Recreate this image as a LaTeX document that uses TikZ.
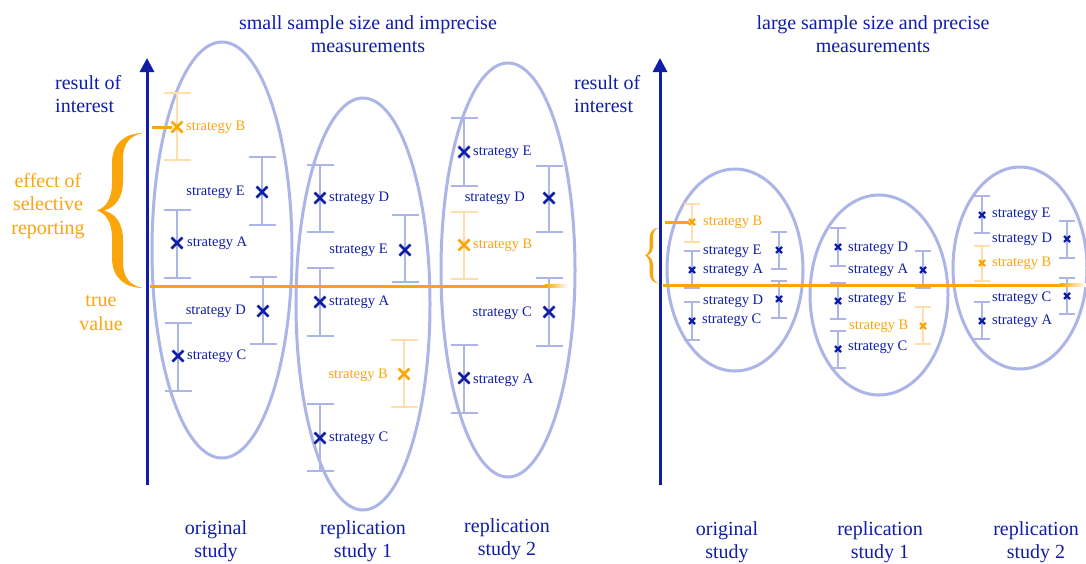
\documentclass[tikz,border=0pt]{standalone}
\usepackage{fontspec}
\setmainfont{Liberation Serif}
\usetikzlibrary{arrows.meta}
\definecolor{dblue}{RGB}{15,30,165}
\definecolor{orng}{RGB}{250,166,10}
\definecolor{lorng}{RGB}{255,222,170}
\definecolor{lblue}{RGB}{172,182,230}
\tikzset{
  barL/.style={line width=2pt},
  barR/.style={line width=1.8pt},
  crossL/.style={line width=2.6pt},
  crossR/.style={line width=2.2pt},
  ell/.style={lblue, line width=3pt},
  lab/.style={inner sep=0pt, font=\fontsize{14.5}{17}\selectfont, text=dblue},
  olab/.style={lab, text=orng},
  big/.style={inner sep=0pt, align=center, font=\fontsize{20}{23.5}\selectfont, text=dblue},
  obig/.style={big, text=orng},
  axis/.style={dblue, line width=3pt, -{Triangle[width=14pt,length=14pt]}},
  truev/.style={orng, line width=3pt},
  selv/.style={orng, line width=3pt},
  bigbrace/.pic={
    \fill (46,-77.5) .. controls (27,-77) and (15,-67) .. (15,-47) -- (15,-27)
      .. controls (15,-12) and (9,-3) .. (0,0)
      .. controls (9,3) and (15,12) .. (15,27) -- (15,47)
      .. controls (15,67) and (27,77) .. (46,77.5)
      .. controls (33,75) and (26,67) .. (26,52) -- (26,30)
      .. controls (26,12) and (18,3) .. (7,0)
      .. controls (18,-3) and (26,-12) .. (26,-30) -- (26,-52)
      .. controls (26,-67) and (33,-75) .. (46,-77.5) -- cycle;
  },
}
% x, top, bottom, cross y, bar colour, cross colour
\newcommand{\ebarL}[6]{%
  \draw[barL,#5] (#1,#2) -- (#1,#3) (#1-13.5,#2) -- (#1+13.5,#2) (#1-13.5,#3) -- (#1+13.5,#3);
  \draw[crossL,#6] (#1-5.5,#4-5.5) -- (#1+5.5,#4+5.5) (#1-5.5,#4+5.5) -- (#1+5.5,#4-5.5);}
\newcommand{\ebarR}[6]{%
  \draw[barR,#5] (#1,#2) -- (#1,#3) (#1-8,#2) -- (#1+8,#2) (#1-8,#3) -- (#1+8,#3);
  \draw[crossR,#6] (#1-3,#4-3) -- (#1+3,#4+3) (#1-3,#4+3) -- (#1+3,#4-3);}
\begin{document}
\begin{tikzpicture}[x=1pt,y=-1pt]
\useasboundingbox[fill=white] (0,0) rectangle (1086,563);

% ================= LEFT PANEL =================
\node[big] (tL) at (368,34) {small sample size and imprecise\\measurements};
\draw[ell] (222,250) ellipse [x radius=70, y radius=208];
\draw[ell] (363,304) ellipse [x radius=67, y radius=206];
\draw[ell] (508,270) ellipse [x radius=67, y radius=207];

% original study
\ebarL{177}{93}{160}{127}{lorng}{orng}
\ebarL{262}{157}{225}{192}{lblue}{dblue}
\ebarL{177}{210}{278}{243}{lblue}{dblue}
\ebarL{263}{277}{344}{311}{lblue}{dblue}
\ebarL{178}{323}{391}{356}{lblue}{dblue}
% replication 1
\ebarL{320}{165}{232}{198}{lblue}{dblue}
\ebarL{405}{215}{282}{250}{lblue}{dblue}
\ebarL{320}{268}{336}{302}{lblue}{dblue}
\ebarL{404}{340}{407}{374}{lorng}{orng}
\ebarL{320}{404}{471}{438}{lblue}{dblue}
% replication 2
\ebarL{464}{118}{186}{152}{lblue}{dblue}
\ebarL{549}{166}{232}{198}{lblue}{dblue}
\ebarL{464}{212}{279}{245}{lorng}{orng}
\ebarL{549}{278}{346}{312}{lblue}{dblue}
\ebarL{464}{345}{413}{378}{lblue}{dblue}

% true value line
\coordinate (tvLa) at (150,286);
\coordinate (tvLb) at (545,286);
\draw[truev] (tvLa) -- (tvLb);
\shade[left color=orng, right color=white] (545,284.5) rectangle (568,287.5);
% selected value
\coordinate (sLa) at (152,127);
\coordinate (sLb) at (172,127);
\draw[selv] (sLa) -- (sLb);

% brace
\pic[orng] (brL) at (97,210.5) {bigbrace};

% axis
\coordinate (axLb) at (147,485);
\coordinate (axLt) at (147,58);
\draw[axis] (axLb) -- (axLt);

% labels original
\node[olab, anchor=west] (oB) at (186,127) {strategy B};
\node[lab, anchor=east] (oE) at (245,192) {strategy E};
\node[lab, anchor=west] (oA) at (187,243) {strategy A};
\node[lab, anchor=east] (oD) at (246,311) {strategy D};
\node[lab, anchor=west] (oC) at (187,356) {strategy C};
% labels rep 1
\node[lab, anchor=west] (r1D) at (329,198) {strategy D};
\node[lab, anchor=east] (r1E) at (388,250) {strategy E};
\node[lab, anchor=west] (r1A) at (329,302) {strategy A};
\node[olab, anchor=east] (r1B) at (388,375) {strategy B};
\node[lab, anchor=west] (r1C) at (329,438) {strategy C};
% labels rep 2
\node[lab, anchor=west] (r2E) at (473,152) {strategy E};
\node[lab, anchor=east] (r2D) at (525,198) {strategy D};
\node[olab, anchor=west] (r2B) at (473,245) {strategy B};
\node[lab, anchor=east] (r2C) at (532,313) {strategy C};
\node[lab, anchor=west] (r2A) at (473,380) {strategy A};

% side labels
\node[big, align=left, anchor=west] (roiL) at (55,94) {result of\\interest};
\node[obig] (effL) at (48,206) {effect of\\selective\\reporting};
\node[obig] (tvL) at (101,313) {true\\value};

\node[big] (bL1) at (216,541) {original\\study};
\node[big] (bL2) at (363,541) {replication\\study 1};
\node[big] (bL3) at (507,539) {replication\\study 2};

% ================= RIGHT PANEL =================
\node[big] (tR) at (873,34) {large sample size and precise\\measurements};
\draw[ell] (735,270) ellipse [x radius=68, y radius=101];
\draw[ell] (879,295) ellipse [x radius=69, y radius=100];
\draw[ell] (1020,268) ellipse [x radius=67, y radius=101];

% original
\ebarR{692}{204}{242}{222}{lorng}{orng}
\ebarR{779}{232}{269}{250}{lblue}{dblue}
\ebarR{692}{251}{288}{270}{lblue}{dblue}
\ebarR{779}{281}{318}{299}{lblue}{dblue}
\ebarR{692}{302}{340}{321}{lblue}{dblue}
% rep 1
\ebarR{838}{228}{266}{247}{lblue}{dblue}
\ebarR{838}{283}{319}{301}{lblue}{dblue}
\ebarR{838}{331}{368}{349}{lblue}{dblue}
\ebarR{923}{251}{288}{270}{lblue}{dblue}
\ebarR{923}{307}{344}{326}{lorng}{orng}
% rep 2
\ebarR{982}{196}{233}{215}{lblue}{dblue}
\ebarR{982}{246}{281}{263}{lorng}{orng}
\ebarR{982}{302}{339}{321}{lblue}{dblue}
\ebarR{1067}{221}{258}{239}{lblue}{dblue}
\ebarR{1067}{278}{314}{296}{lblue}{dblue}

\coordinate (tvRa) at (663,285);
\coordinate (tvRb) at (1060,285);
\draw[truev] (tvRa) -- (tvRb);
\shade[left color=orng, right color=white] (1060,283.5) rectangle (1086,286.5);
\coordinate (sRa) at (665,222);
\coordinate (sRb) at (689,222);
\draw[selv] (sRa) -- (sRb);

\pic[orng, xscale=0.31, yscale=0.36] (brR) at (645,255.5) {bigbrace};

\coordinate (axRb) at (660,485);
\coordinate (axRt) at (660,58);
\draw[axis] (axRb) -- (axRt);

\node[olab, anchor=west] (RoB) at (703,222) {strategy B};
\node[lab, anchor=west] (RoE) at (703,251) {strategy E};
\node[lab, anchor=west] (RoA) at (703,270) {strategy A};
\node[lab, anchor=west] (RoD) at (703,301) {strategy D};
\node[lab, anchor=west] (RoC) at (702,320) {strategy C};

\node[lab, anchor=west] (R1D) at (848,248) {strategy D};
\node[lab, anchor=west] (R1A) at (848,270) {strategy A};
\node[lab, anchor=west] (R1E) at (848,299) {strategy E};
\node[olab, anchor=west] (R1B) at (849,326) {strategy B};
\node[lab, anchor=west] (R1C) at (848,347) {strategy C};

\node[lab, anchor=west] (R2E) at (992,214) {strategy E};
\node[lab, anchor=west] (R2D) at (992,239) {strategy D};
\node[olab, anchor=west] (R2B) at (992,263) {strategy B};
\node[lab, anchor=west] (R2C) at (992,298) {strategy C};
\node[lab, anchor=west] (R2A) at (992,321) {strategy A};

\node[big, align=left, anchor=west] (roiR) at (574,94) {result of\\interest};

\node[big] (bR1) at (727,542) {original\\study};
\node[big] (bR2) at (880,542) {replication\\study 1};
\node[big] (bR3) at (1036,542) {replication\\study 2};
\end{tikzpicture}
\end{document}
